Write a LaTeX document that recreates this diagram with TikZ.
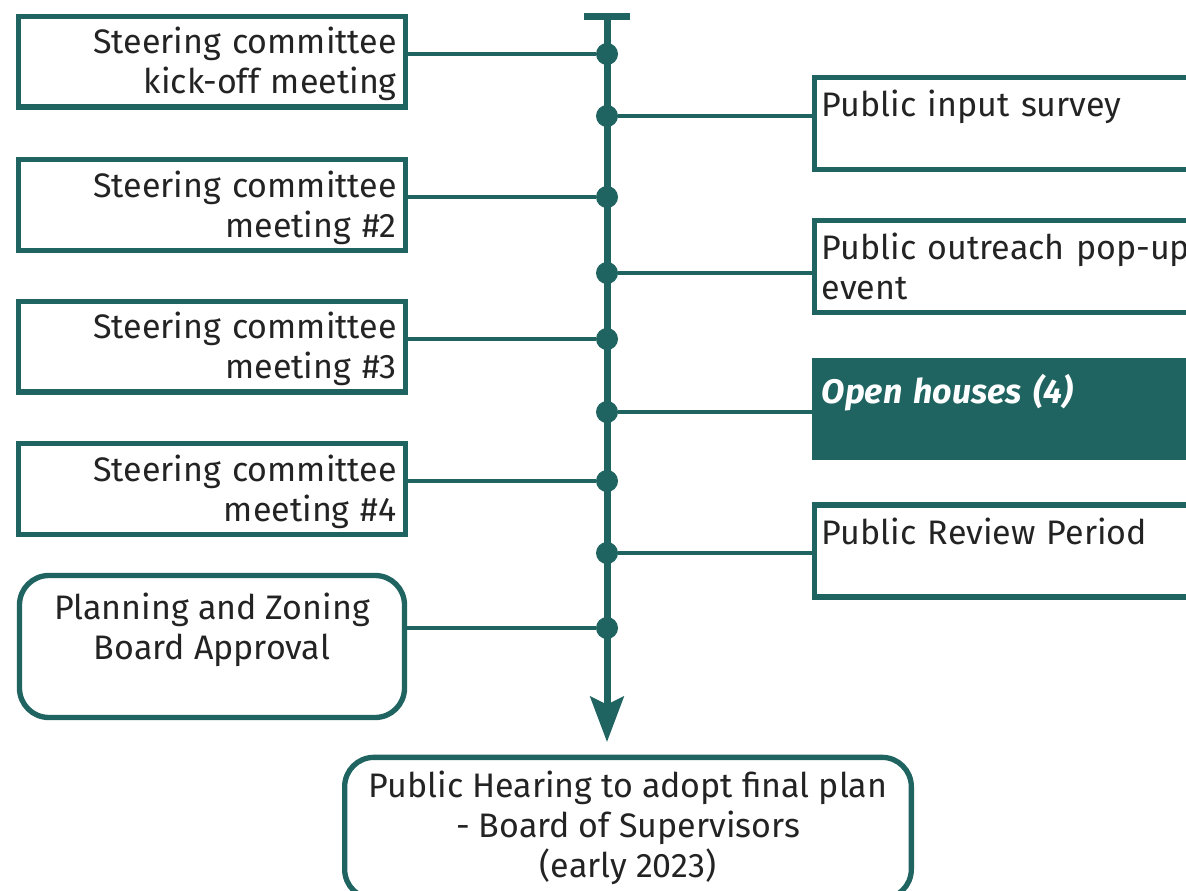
\documentclass[tikz,border=0pt]{standalone}
\usepackage{fontspec}
\setmainfont{Fira Sans}
\usetikzlibrary{arrows.meta, positioning}
\definecolor{pine}{RGB}{32,100,97}
\definecolor{ink}{RGB}{35,35,35}
\tikzstyle{txt} = [font = \fontsize{25.5pt}{30pt}\selectfont, text = ink]
\tikzstyle{meet} = [txt, rectangle, draw = pine, line width = 4pt,
  minimum width = 290pt, minimum height = 68pt, text width = 277pt,
  inner xsep = 6.4pt, align = right]
\tikzstyle{event} = [
  txt, rectangle, draw = pine, line width = 4pt,
  minimum width = 300pt, minimum height = 69pt, text width = 288.8pt,
  inner xsep = 5.6pt, align = left
]
\tikzstyle{mile} = [txt, rectangle, rounded corners = 22pt, draw = pine,
  line width = 4pt, align = center]
\tikzstyle{dot} = [circle, fill = pine, inner sep = 0, minimum size = 16.5pt]
\tikzstyle{link} = [draw = pine, line width = 3pt]

\begin{document}
\begin{tikzpicture}[x = 0.75pt, y = -0.75pt]
      \useasboundingbox (0, 0) rectangle (1186, 890);
      \clip (0, 0) rectangle (1186, 890);
      % spine
      \coordinate (start) at (607, 13);
      \coordinate (end) at (607, 742);
      \draw [pine, line width = 5.25pt,
        {Bar[width = 35pt]}-{Stealth[length = 34pt, width = 25pt, inset = 6pt]}]
        (start) -- (end);
      % left side
      \node [meet] (sc-1) at (212, 61.5) {\rule{0pt}{24pt}Steering committee\\kick-off meeting};
      \node [meet] (sc-2) at (212, 205) {\rule{0pt}{24pt}Steering committee\\meeting \#2};
      \node [meet] (sc-3) at (212, 346.5) {\rule{0pt}{24pt}Steering committee\\meeting \#3};
      \node [meet] (sc-4) at (212, 489) {\rule{0pt}{24pt}Steering committee\\meeting \#4};
      \node [mile, minimum width = 288.75pt, minimum height = 106.5pt]
        (pzb) at (212, 646.5) {Planning and Zoning\\Board Approval\\\mbox{}};
      % right side
      \node [event] (pub-1) at (1014.5, 123.5) {Public input survey\\\mbox{}};
      \node [event] (pub-2) at (1014.5, 266.5) {Public outreach pop-up\\event};
      \node [event, fill = pine, minimum height = 73pt, text = white,
        font = \fontsize{25.5pt}{30pt}\selectfont\bfseries\itshape]
        (pub-3) at (1014.5, 409) {Open houses (4)\\\mbox{}};
      \node [event] (pub-4) at (1014.5, 551) {Public Review Period\\\mbox{}};
      % final step
      \node [mile, minimum width = 425pt, minimum height = 106pt]
        (hear) at (628, 828) {Public Hearing to adopt final plan\\- Board of Supervisors\\(early 2023)};
      % dots on the spine
      \node [dot] (d-1) at (607, 54) {};
      \node [dot] (d-2) at (607, 116) {};
      \node [dot] (d-3) at (607, 197) {};
      \node [dot] (d-4) at (607, 273) {};
      \node [dot] (d-5) at (607, 339) {};
      \node [dot] (d-6) at (607, 412) {};
      \node [dot] (d-7) at (607, 481) {};
      \node [dot] (d-8) at (607, 553) {};
      \node [dot] (d-9) at (607, 628) {};

      \draw [link] (sc-1.east |- d-1) -- (d-1);
      \draw [link] (d-2) -- (pub-1.west |- d-2);
      \draw [link] (sc-2.east |- d-3) -- (d-3);
      \draw [link] (d-4) -- (pub-2.west |- d-4);
      \draw [link] (sc-3.east |- d-5) -- (d-5);
      \draw [link] (d-6) -- (pub-3.west |- d-6);
      \draw [link] (sc-4.east |- d-7) -- (d-7);
      \draw [link] (d-8) -- (pub-4.west |- d-8);
      \draw [link] (pzb.east |- d-9) -- (d-9);
    \end{tikzpicture}
\end{document}
